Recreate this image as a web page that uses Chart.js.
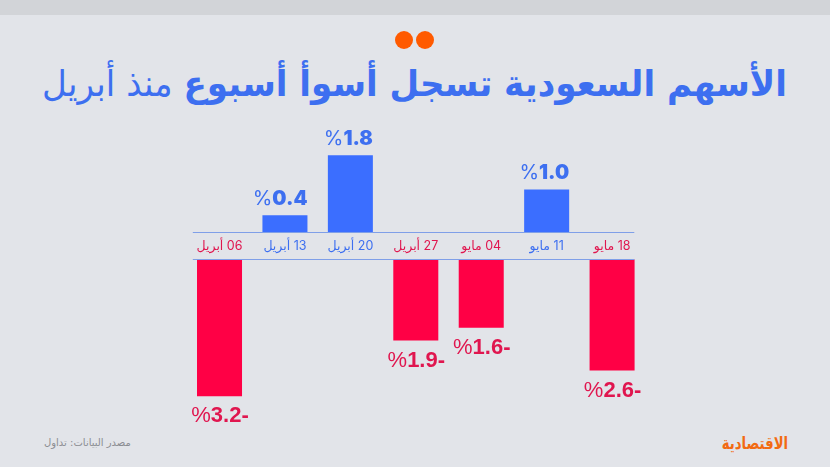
<!DOCTYPE html>
<html lang="ar">
<head>
<meta charset="utf-8">
<script src="https://cdn.jsdelivr.net/npm/chart.js@4"></script>
<style>
html,body{margin:0;padding:0;background:#e2e4e9;width:830px;height:467px;overflow:hidden}
#band{position:absolute;left:0;top:0;width:830px;height:15px;background:#d2d4d8}
.dot{position:absolute;top:31px;width:18px;height:18px;border-radius:50%;background:#ff5a00}
#title{position:absolute;right:43px;top:53px;white-space:nowrap;direction:rtl;color:#3d6ff0;font-family:"DejaVu Sans","Noto Sans",sans-serif;font-size:34.15px;line-height:60px;transform:scaleY(1.06);transform-origin:right center}
#title b{font-weight:700}
#title span{font-weight:400}
#source{position:absolute;left:44px;top:435px;direction:rtl;color:#8b8d92;font-family:"DejaVu Sans",sans-serif;font-size:10px;line-height:16px;white-space:nowrap}
#logo{position:absolute;right:42px;top:432px;direction:rtl;color:#f26a12;font-family:"DejaVu Sans",sans-serif;font-weight:700;font-size:17px;line-height:22px;white-space:nowrap;transform:scaleX(.78);transform-origin:right center}
#wrap{position:absolute;left:0;top:0;width:830px;height:467px}
</style>
</head>
<body>
<div id="band"></div>
<div class="dot" style="left:395px"></div>
<div class="dot" style="left:416px"></div>
<div id="title"><b>الأسهم السعودية تسجل أسوأ أسبوع</b> <span>منذ أبريل</span></div>
<div id="source">مصدر البيانات: تداول</div>
<div id="logo">الاقتصادية</div>
<div id="wrap"><canvas id="c" dir="rtl"></canvas></div>
<script>
const categories = ["06 أبريل","13 أبريل","20 أبريل","27 أبريل","04 مايو","11 مايو","18 مايو"];
const gains = [null,0.4,1.8,null,null,1.0,null];
const losses = [-3.2,null,null,-1.9,-1.6,null,-2.6];

const BLUE="#3b6eff", RED="#ff0045", BLUE_TEXT="#3d6ff0", RED_TEXT="#e0164f", LINE="#7f9fe8";
const isLoss=i=>losses[i]!==null;

const dataLabels={
  id:"dataLabels",
  afterDatasetsDraw(chart){
    const ctx=chart.ctx;
    ctx.save();
    ctx.direction="ltr";
    ctx.textBaseline="middle";
    ctx.textAlign="left";
    chart.data.datasets.forEach((ds,di)=>{
      chart.getDatasetMeta(di).data.forEach((bar,i)=>{
        const v=ds.data[i];
        if(v===null)return;
        const num=Math.abs(v).toFixed(1);
        if(v>0){
          ctx.font='900 20px Inter,sans-serif';
          const nw=ctx.measureText(num).width;
          ctx.font='400 20px Inter,sans-serif';
          const pw=ctx.measureText("%").width;
          const right=bar.x+22.5, y=bar.y-16;
          ctx.fillStyle=BLUE_TEXT;
          ctx.fillText("%",right-nw-pw,y);
          ctx.font='900 20px Inter,sans-serif';
          ctx.fillText(num,right-nw,y);
        }else{
          const txt=num+"-";
          const bold='700 22px "Liberation Sans",Arial,sans-serif', thin='400 22px "Liberation Sans",Arial,sans-serif';
          ctx.font=bold;
          const nw=ctx.measureText(txt).width;
          ctx.font=thin;
          const pw=ctx.measureText("%").width;
          const left=bar.x+0.5-(nw+pw)/2, y=bar.y+20;
          ctx.fillStyle=RED_TEXT;
          ctx.fillText("%",left,y);
          ctx.font=bold;
          ctx.fillText(txt,left+pw,y);
        }
      });
    });
    ctx.restore();
  }
};
const axisLines={
  id:"axisLines",
  afterDatasetsDraw(chart){
    const {ctx,chartArea:a,scales}=chart;
    const ys=[scales.yUp.getPixelForValue(0),scales.yDown.getPixelForValue(0)];
    ctx.save();
    ctx.strokeStyle=LINE;ctx.lineWidth=1;
    ys.forEach(y=>{
      const py=Math.round(y)+0.5;
      ctx.beginPath();ctx.moveTo(a.left+6,py);ctx.lineTo(a.right-10.5,py);ctx.stroke();
    });
    ctx.restore();
  }
};
const quietY=(extra)=>Object.assign({
  type:"linear",position:"left",stack:"main",
  grid:{display:false},border:{display:false},ticks:{display:false},
  afterFit(s){s.width=0;}
},extra);

new Chart(document.getElementById("c"),{
  type:"bar",
  data:{labels:categories,datasets:[
    {data:gains,yAxisID:"yUp",backgroundColor:BLUE,grouped:false,categoryPercentage:1,barPercentage:0.688},
    {data:losses,yAxisID:"yDown",backgroundColor:RED,grouped:false,categoryPercentage:1,barPercentage:0.688}
  ]},
  options:{
    responsive:true,maintainAspectRatio:false,animation:false,
    layout:{padding:{left:186.8,right:185.2,top:138.1,bottom:57.9}},
    plugins:{legend:{display:false},tooltip:{enabled:false}},
    scales:{
      x:{
        position:{yGap:1},
        grid:{display:false},border:{display:false},
        ticks:{
          padding:-2,maxRotation:0,autoSkip:false,
          font:{family:'Inter,"DejaVu Sans",sans-serif',size:12.5},
          color:c=>isLoss(c.index)?RED_TEXT:BLUE_TEXT
        }
      },
      yUp:quietY({min:0,max:2.2,stackWeight:94.16,weight:3}),
      yGap:quietY({min:0,max:1,stackWeight:27,weight:2}),
      yDown:quietY({min:-3.5,max:0,stackWeight:149.8,weight:1})
    }
  },
  plugins:[axisLines,dataLabels]
});
</script>
</body>
</html>
